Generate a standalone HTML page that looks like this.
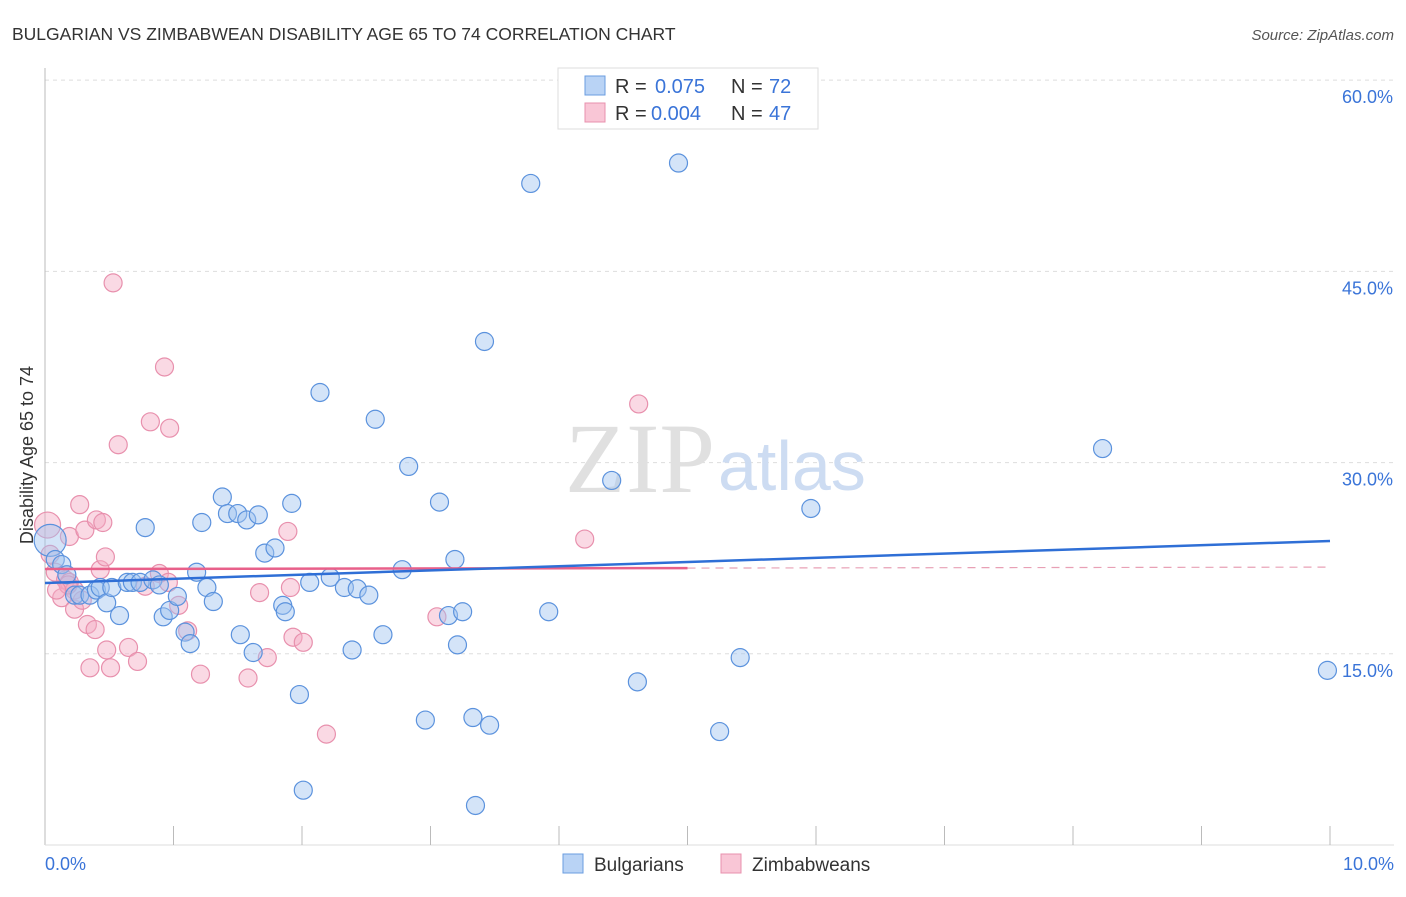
<!DOCTYPE html>
<html><head><meta charset="utf-8">
<style>
body{margin:0;background:#fff;font-family:"Liberation Sans",sans-serif;}
svg text{font-family:"Liberation Sans",sans-serif;}
</style></head>
<body>
<svg id="chart" width="1406" height="892" xmlns="http://www.w3.org/2000/svg">
<text x="12" y="40" font-size="17.5" fill="#333">BULGARIAN VS ZIMBABWEAN DISABILITY AGE 65 TO 74 CORRELATION CHART</text>
<text x="1394" y="40" font-size="15" fill="#555" font-style="italic" text-anchor="end">Source: ZipAtlas.com</text>
<g id="grid"></g>
<text x="715" y="492" font-size="100" fill="#e0e0e0" style="font-family:'Liberation Serif',serif" text-anchor="end">ZIP</text>
<text x="718" y="490" font-size="70" fill="#cddcf2">atlas</text>
<text transform="translate(33,455) rotate(-90)" font-size="18" fill="#333" text-anchor="middle">Disability Age 65 to 74</text>
<g id="pts"></g>
<g id="trend"></g>
<g>
<rect x="558" y="68" width="260" height="61" fill="#fff" stroke="#ddd"/>
<rect x="585" y="76" width="20" height="19" fill="#b9d3f5" stroke="#6a9de0"/>
<text x="615" y="93" font-size="20" fill="#333">R =</text>
<text x="655" y="93" font-size="20" fill="#3a74d8">0.075</text>
<text x="731" y="93" font-size="20" fill="#333">N =</text>
<text x="769" y="93" font-size="20" fill="#3a74d8">72</text>
<rect x="585" y="103" width="20" height="19" fill="#f9c6d6" stroke="#e890ad"/>
<text x="615" y="120" font-size="20" fill="#333">R =</text>
<text x="651" y="120" font-size="20" fill="#3a74d8">0.004</text>
<text x="731" y="120" font-size="20" fill="#333">N =</text>
<text x="769" y="120" font-size="20" fill="#3a74d8">47</text>
</g>
<g>
<rect x="563" y="854" width="20" height="19" fill="#b9d3f5" stroke="#6a9de0"/>
<text x="594" y="871" font-size="19" fill="#333">Bulgarians</text>
<rect x="721" y="854" width="20" height="19" fill="#f9c6d6" stroke="#e890ad"/>
<text x="752" y="871" font-size="19" fill="#333">Zimbabweans</text>
</g>
</svg>
<script>
const yTicks=[15,30,45,60];
const yTickLabels=["15.0%","30.0%","45.0%","60.0%"];
const xTickLabels=["0.0%","10.0%"];
const blueX=[0.04,0.08,0.13,0.17,0.23,0.27,0.35,0.40,0.43,0.48,0.52,0.58,0.64,0.68,0.74,0.78,0.84,0.89,0.92,0.97,1.03,1.09,1.13,1.18,1.22,1.26,1.31,1.38,1.42,1.50,1.52,1.57,1.62,1.66,1.71,1.79,1.85,1.87,1.92,1.98,2.01,2.06,2.14,2.22,2.33,2.39,2.43,2.52,2.57,2.63,2.78,2.83,2.96,3.07,3.14,3.19,3.21,3.25,3.33,3.35,3.42,3.46,3.78,3.92,4.41,4.61,4.93,5.25,5.41,5.96,8.23,9.98];
const blueY=[23.9,22.4,22.0,21.2,19.6,19.6,19.6,20.0,20.2,19.0,20.2,18.0,20.6,20.6,20.6,24.9,20.8,20.4,17.9,18.4,19.5,16.7,15.8,21.4,25.3,20.2,19.1,27.3,26.0,26.0,16.5,25.5,15.1,25.9,22.9,23.3,18.8,18.3,26.8,11.8,4.3,20.6,35.5,21.0,20.2,15.3,20.1,19.6,33.4,16.5,21.6,29.7,9.8,26.9,18.0,22.4,15.7,18.3,10.0,3.1,39.5,9.4,51.9,18.3,28.6,12.8,53.5,8.9,14.7,26.4,31.1,13.7];
const pinkX=[0.02,0.04,0.08,0.16,0.19,0.23,0.13,0.19,0.27,0.31,0.33,0.39,0.40,0.45,0.43,0.47,0.35,0.48,0.51,0.57,0.53,0.65,0.72,0.78,0.82,0.89,0.93,0.97,0.96,1.04,1.11,1.21,1.58,1.67,1.73,1.89,1.91,1.93,2.01,2.19,3.05,4.20,4.62,0.18,0.09,0.23,0.29];
const pinkY=[25.1,22.8,21.4,20.8,20.6,20.0,19.4,24.2,26.7,24.7,17.3,16.9,25.5,25.3,21.6,22.6,13.9,15.3,13.9,31.4,44.1,15.5,14.4,20.3,33.2,21.3,37.5,32.7,20.6,18.8,16.8,13.4,13.1,19.8,14.7,24.6,20.2,16.3,15.9,8.7,17.9,24.0,34.6,20.4,20.0,18.5,19.2];
const blueTrend=[20.55,23.85];
const pinkTrend=[21.65,21.8];
const pinkSolidEnd=5.0;
const NS="http://www.w3.org/2000/svg";
const sx=v=>45+v*128.5;
const sy=v=>845-v*12.747;
function mk(tag,attrs,parent){const e=document.createElementNS(NS,tag);for(const k in attrs)e.setAttribute(k,attrs[k]);parent.appendChild(e);return e;}
const grid=document.getElementById('grid');
yTicks.forEach((t,i)=>{
 const l=mk('line',{x1:45,x2:1394,y1:sy(t),y2:sy(t),stroke:'#ddd','stroke-dasharray':'4,4'},grid);
 
 
 const tx=mk('text',{x:1393,y:sy(t)+23,'font-size':18,fill:'#3a74d8','text-anchor':'end'},grid);
 tx.textContent=yTickLabels[i];
 
 
});
const ax=mk('line',{x1:45,x2:45,y1:68,y2:845,stroke:'#bbb'},grid);


const bx=mk('line',{x1:45,x2:1394,y1:845,y2:845,stroke:'#ddd'},grid);


for(let i=1;i<=10;i++){
 const t=mk('line',{x1:sx(i),x2:sx(i),y1:826,y2:845,stroke:'#bbb'},grid);
 
 
}
[[0,'start',45],[10,'end',1394]].forEach((d,i)=>{
 const t=mk('text',{x:d[2],y:870,'font-size':18,fill:'#3a74d8','text-anchor':d[1]},grid);
 t.textContent=xTickLabels[i];
 
 
});
const pts=document.getElementById('pts');
pinkX.forEach((x,i)=>{
 const c=mk('circle',{cx:sx(x),cy:sy(pinkY[i]),r:i==0?13:9,fill:'rgba(245,170,195,0.45)',stroke:'#e890ad','stroke-width':1.2},pts);
 
 
});
blueX.forEach((x,i)=>{
 const c=mk('circle',{cx:sx(x),cy:sy(blueY[i]),r:i==0?16:9,fill:'rgba(160,195,240,0.45)',stroke:'#5b92dd','stroke-width':1.2},pts);
 
 
});
const tr=document.getElementById('trend');
const pe=pinkTrend[0]+(pinkTrend[1]-pinkTrend[0])*pinkSolidEnd/10;
const p1=mk('line',{x1:sx(0),y1:sy(pinkTrend[0]),x2:sx(pinkSolidEnd),y2:sy(pe),stroke:'#e8608a','stroke-width':2.5},tr);


const p2=mk('line',{x1:sx(pinkSolidEnd),y1:sy(pe),x2:sx(10),y2:sy(pinkTrend[1]),stroke:'#e8a0b5','stroke-width':1.2,'stroke-dasharray':'8,6'},tr);


const b1=mk('line',{x1:sx(0),y1:sy(blueTrend[0]),x2:sx(10),y2:sy(blueTrend[1]),stroke:'#2f6fd6','stroke-width':2.5},tr);


</script>
</body></html>
